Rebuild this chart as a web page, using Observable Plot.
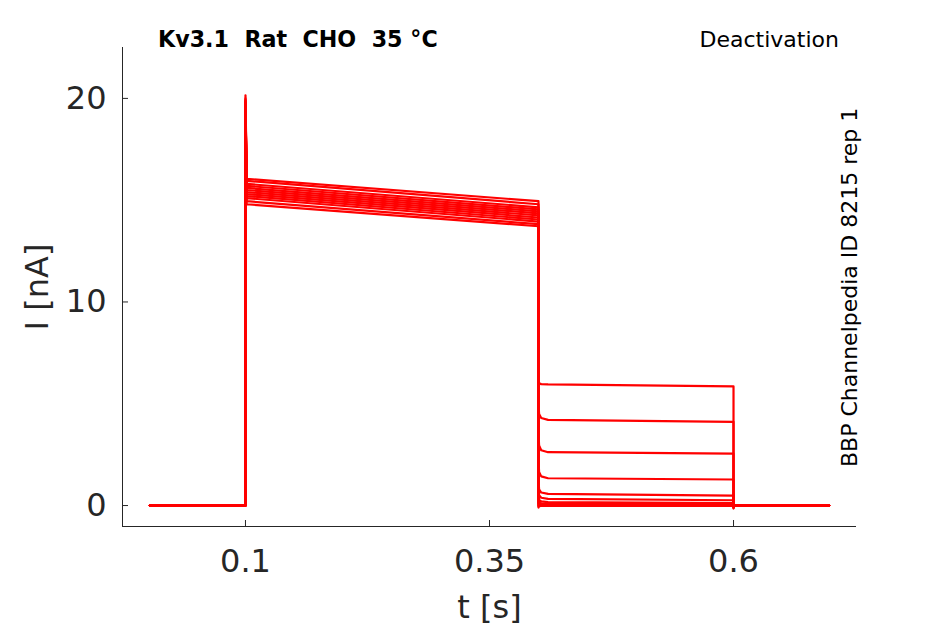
<!DOCTYPE html>
<html>
<head>
<meta charset="utf-8">
<script src="https://cdn.jsdelivr.net/npm/d3@7"></script>
<script src="https://cdn.jsdelivr.net/npm/@observablehq/plot@0.6"></script>
<style>
  html, body { margin: 0; padding: 0; background: #fff; }
  svg { display: block; }
</style>
</head>
<body>
<div id="chart"></div>
<script>
// ---- data ----
const titleText = "Kv3.1  Rat  CHO  35 °C";
const protocolText = "Deactivation";
const sourceText = "BBP Channelpedia ID 8215 rep 1";

const xTicks = [0.1, 0.35, 0.6];
const xTickLabels = ["0.1", "0.35", "0.6"];
const yTicks = [0, 10, 20];
const yTickLabels = ["0", "10", "20"];
const xDomain = [-0.026, 0.726];
const yDomain = [-1.03, 22.5];

// protocol timing (s)
const tStart = 0.002, tOn = 0.1, tSpikeEnd = 0.1012, tTail = 0.4002, tTailA = 0.4008, tTailB = 0.403, tTailC = 0.41, tOff = 0.6, tOffEnd = 0.6008, tEnd = 0.698;

// per-sweep current values (nA)
const peak        = [20.15, 19.8, 19.6, 19.9, 19.5, 19.7, 20.0, 19.4, 19.8, 19.6, 19.9, 19.5];
const plateauOn   = [16.05, 15.95, 15.8, 15.7, 15.6, 15.5, 15.4, 15.3, 15.2, 15.1, 14.95, 14.8];
const plateauOff  = [14.95, 14.8, 14.65, 14.55, 14.45, 14.35, 14.25, 14.15, 14.05, 13.95, 13.82, 13.72];
const tailInit    = [6.2, 5.0, 3.6, 2.3, 1.3, 0.9, 0.5, 0.3, 0.1, 0.0, -0.05, -0.1];
const tailMid     = [6.0, 4.5, 2.95, 1.65, 0.8, 0.5, 0.28, 0.16, 0.08, 0.03, 0.0, -0.03];
const tailOn      = [5.95, 4.21, 2.62, 1.34, 0.57, 0.33, 0.17, 0.09, 0.05, 0.02, 0.0, -0.02];
const tailOff     = [5.85, 4.11, 2.55, 1.28, 0.49, 0.26, 0.12, 0.06, 0.03, 0.01, 0.0, -0.02];
const offDip      = [-0.15, -0.12, -0.1, -0.08, -0.06, -0.05, -0.04, -0.03, -0.02, -0.01, 0, 0];

// build long table
const rows = [];
peak.forEach((_, s) => {
  const pts = [
    [tStart, 0], [tOn, 0], [tOn, peak[s]], [tSpikeEnd, plateauOn[s]],
    [tTail, plateauOff[s]], [tTail, tailInit[s]], [tTailA, tailMid[s]], [tTailB, tailOn[s] + (tailMid[s]-tailOn[s])*0.3],
    [tTailC, tailOn[s]], [tOff, tailOff[s]], [tOff, offDip[s]], [tOffEnd, 0], [tEnd, 0]
  ];
  pts.forEach(([t, i]) => rows.push({sweep: s, t, i}));
});

const axisColor = "#262626";

const chart = Plot.plot({
  width: 945,
  height: 624,
  marginLeft: 122,
  marginRight: 89,
  marginTop: 47,
  marginBottom: 98,
  style: {fontFamily: "DejaVu Sans", background: "white", color: axisColor, overflow: "visible"},
  x: {domain: xDomain},
  y: {domain: yDomain},
  marks: [
    Plot.line(rows, {x: "t", y: "i", z: "sweep", stroke: "#ff0000", strokeWidth: 2.2, curve: "linear"}),
    Plot.ruleX([xDomain[0]], {stroke: axisColor, strokeWidth: 1}),
    Plot.ruleY([yDomain[0]], {stroke: axisColor, strokeWidth: 1}),
    Plot.axisX(xTicks, {
      tickSize: -6, tickPadding: 29, fontSize: 32, stroke: axisColor, fill: axisColor,
      tickFormat: (d) => xTickLabels[xTicks.indexOf(d)],
      label: "t [s]", labelAnchor: "center", labelOffset: 91, labelArrow: "none"
    }),
    Plot.axisY(yTicks, {
      tickSize: -6, tickPadding: 22, fontSize: 32, stroke: axisColor, fill: axisColor,
      tickFormat: (d) => yTickLabels[yTicks.indexOf(d)],
      label: "I [nA]", labelAnchor: "center", labelOffset: 97, labelArrow: "none"
    })
  ]
});

document.getElementById("chart").appendChild(chart);

// annotations
const svg = d3.select(chart);
svg.append("text")
  .attr("x", 158).attr("y", 47).attr("text-anchor", "start")
  .attr("font-family", "DejaVu Sans").attr("font-weight", "bold").attr("font-size", 22.2)
  .attr("fill", "#000")
  .attr("xml:space", "preserve").style("white-space", "pre")
  .text(titleText);
svg.append("text")
  .attr("x", 839).attr("y", 47).attr("text-anchor", "end")
  .attr("font-family", "DejaVu Sans").attr("font-size", 22)
  .attr("fill", "#000")
  .text(protocolText);
svg.append("text")
  .attr("transform", "translate(857,467) rotate(-90)").attr("text-anchor", "start")
  .attr("font-family", "DejaVu Sans").attr("font-size", 22)
  .attr("fill", "#000")
  .text(sourceText);
</script>
</body>
</html>
